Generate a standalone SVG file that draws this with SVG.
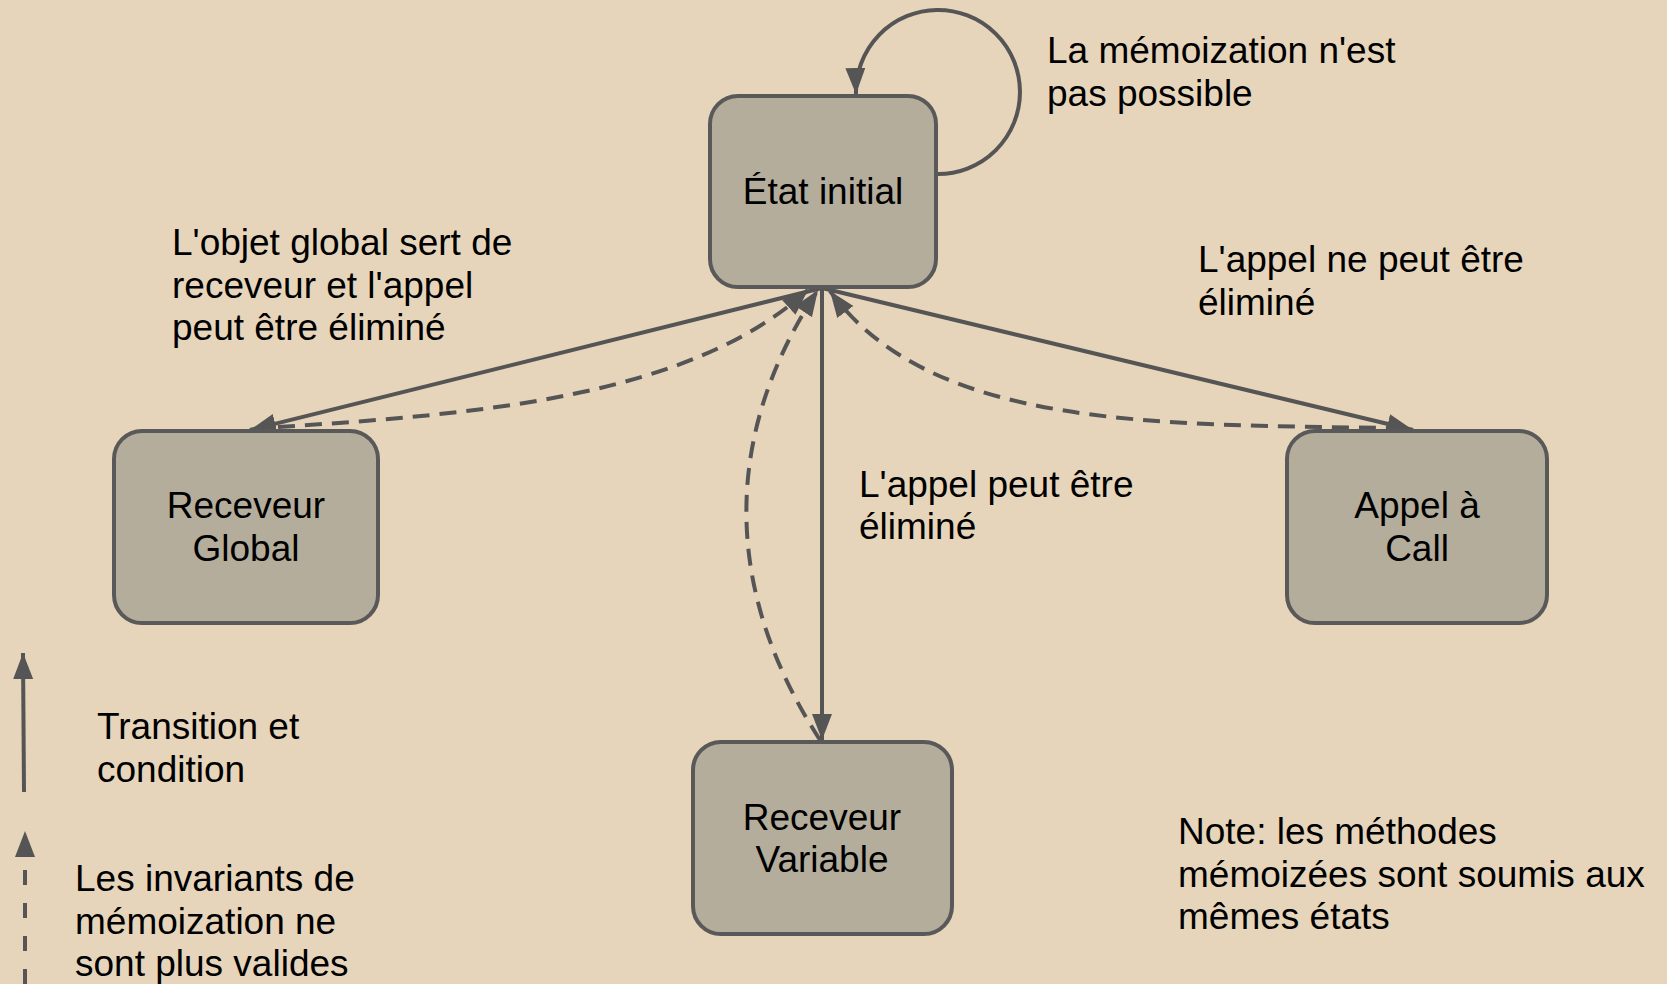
<svg xmlns="http://www.w3.org/2000/svg" width="1667" height="984" viewBox="0 0 1667 984">
  <defs>
    <marker id="arrow" markerUnits="userSpaceOnUse" markerWidth="28" markerHeight="22" refX="26" refY="10" orient="auto">
      <path d="M0,0 L26,10 L0,20 z" fill="#555555"/>
    </marker>
    <style>
      .bg { fill: #e6d5bb; }
      .node rect { fill: #b5ad9c; stroke: #595959; stroke-width: 4; }
      text { font-family: "Liberation Sans", Arial, sans-serif; font-size: 37px; fill: #000000; }
      .node text { text-anchor: middle; }
      .edge { fill: none; stroke: #555555; stroke-width: 4; }
      .solid { marker-end: url(#arrow); }
      .dashed { stroke-dasharray: 17 10; marker-end: url(#arrow); }
      .legend-dashed { stroke-dasharray: 15 18; }
    </style>
  </defs>

  <rect class="bg" x="0" y="0" width="1667" height="984"/>

  <!-- transitions -->
  <g id="connectors">
    <path class="edge solid" d="M 937 174 A 82 82 0 1 0 856 94"/>
    <path class="edge solid" d="M 822 288 L 250 430"/>
    <path class="edge solid" d="M 822 288 L 1413 430"/>
    <path class="edge solid" d="M 822 288 L 822 740"/>
    <path class="edge dashed" d="M 278 427 C 480 414, 690 397, 808 290"/>
    <path class="edge dashed" d="M 820 740 C 710 570, 735 415, 818 290"/>
    <path class="edge dashed" d="M 1403 428 C 1150 425, 930 428, 830 291"/>
  </g>

  <!-- states -->
  <g id="etat-initial" class="node">
    <rect x="710" y="96" width="226" height="191" rx="28" ry="28"/>
    <text x="823" y="204">État initial</text>
  </g>
  <g id="receveur-global" class="node">
    <rect x="114" y="431" width="264" height="192" rx="28" ry="28"/>
    <text x="246" y="518">Receveur</text>
    <text x="246" y="561">Global</text>
  </g>
  <g id="appel-call" class="node">
    <rect x="1287" y="431" width="260" height="192" rx="28" ry="28"/>
    <text x="1417" y="518">Appel à</text>
    <text x="1417" y="561">Call</text>
  </g>
  <g id="receveur-variable" class="node">
    <rect x="693" y="742" width="259" height="192" rx="28" ry="28"/>
    <text x="822" y="830">Receveur</text>
    <text x="822" y="872">Variable</text>
  </g>

  <!-- transition labels -->
  <g id="labels">
    <text x="1047" y="63">La mémoization n'est</text>
    <text x="1047" y="106">pas possible</text>
    <text x="172" y="255">L'objet global sert de</text>
    <text x="172" y="298">receveur et l'appel</text>
    <text x="172" y="340">peut être éliminé</text>
    <text x="1198" y="272">L'appel ne peut être</text>
    <text x="1198" y="315">éliminé</text>
    <text x="859" y="497">L'appel peut être</text>
    <text x="859" y="539">éliminé</text>
    <text x="1178" y="844">Note: les méthodes</text>
    <text x="1178" y="887">mémoizées sont soumis aux</text>
    <text x="1178" y="929">mêmes états</text>
  </g>

  <!-- legend -->
  <g id="legend">
    <path class="edge solid" d="M 24 792 L 23 653"/>
    <text x="97" y="739">Transition et</text>
    <text x="97" y="782">condition</text>
    <path class="edge solid legend-dashed" d="M 25 984 L 25 831"/>
    <text x="75" y="891">Les invariants de</text>
    <text x="75" y="934">mémoization ne</text>
    <text x="75" y="976">sont plus valides</text>
  </g>
</svg>
